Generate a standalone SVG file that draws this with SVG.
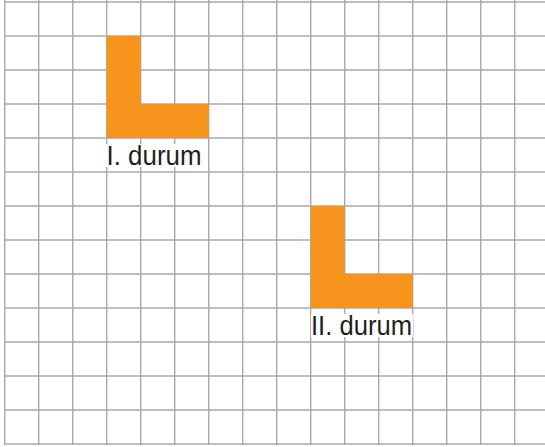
<svg xmlns="http://www.w3.org/2000/svg" width="545" height="447" viewBox="0 0 545 447">
<style>
.grid line{stroke:#a7a9ac;stroke-width:1.4}
.shape{fill:#f7941d}
.lblbg{fill:#ffffff}
.lbl{font-family:"Liberation Sans",Arial,sans-serif;font-size:27px;fill:#231f20}
</style>
<rect x="0" y="0" width="545" height="447" fill="#ffffff"/>
<g id="grid" class="grid">
<line x1="4.7" y1="0" x2="4.7" y2="445"/>
<line x1="38.7" y1="0" x2="38.7" y2="445"/>
<line x1="72.7" y1="0" x2="72.7" y2="445"/>
<line x1="106.7" y1="0" x2="106.7" y2="445"/>
<line x1="140.7" y1="0" x2="140.7" y2="445"/>
<line x1="174.7" y1="0" x2="174.7" y2="445"/>
<line x1="208.7" y1="0" x2="208.7" y2="445"/>
<line x1="242.7" y1="0" x2="242.7" y2="445"/>
<line x1="276.7" y1="0" x2="276.7" y2="445"/>
<line x1="310.7" y1="0" x2="310.7" y2="445"/>
<line x1="344.7" y1="0" x2="344.7" y2="445"/>
<line x1="378.7" y1="0" x2="378.7" y2="445"/>
<line x1="412.7" y1="0" x2="412.7" y2="445"/>
<line x1="446.7" y1="0" x2="446.7" y2="445"/>
<line x1="480.7" y1="0" x2="480.7" y2="445"/>
<line x1="514.7" y1="0" x2="514.7" y2="445"/>
<line x1="4" y1="2" x2="545" y2="2"/>
<line x1="4" y1="36" x2="545" y2="36"/>
<line x1="4" y1="70" x2="545" y2="70"/>
<line x1="4" y1="104" x2="545" y2="104"/>
<line x1="4" y1="138" x2="545" y2="138"/>
<line x1="4" y1="172" x2="545" y2="172"/>
<line x1="4" y1="206" x2="545" y2="206"/>
<line x1="4" y1="240" x2="545" y2="240"/>
<line x1="4" y1="274" x2="545" y2="274"/>
<line x1="4" y1="308" x2="545" y2="308"/>
<line x1="4" y1="342" x2="545" y2="342"/>
<line x1="4" y1="376" x2="545" y2="376"/>
<line x1="4" y1="410" x2="545" y2="410"/>
<line x1="4" y1="444" x2="545" y2="444"/>
</g>
<g id="connectors"></g>
<g id="case1">
<path class="shape" d="M106.7 36 H140.7 V104 H208.7 V138 H106.7 Z"/>
<rect class="lblbg" x="106" y="144" width="98" height="23"/>
<text class="lbl" x="106.5" y="164.7" textLength="95" lengthAdjust="spacingAndGlyphs">I. durum</text>
</g>
<g id="case2">
<path class="shape" d="M310.7 206 H344.7 V274 H412.7 V308 H310.7 Z"/>
<rect class="lblbg" x="311" y="314" width="102" height="23"/>
<text class="lbl" x="311" y="334.7" textLength="101" lengthAdjust="spacingAndGlyphs">II. durum</text>
</g>
</svg>
